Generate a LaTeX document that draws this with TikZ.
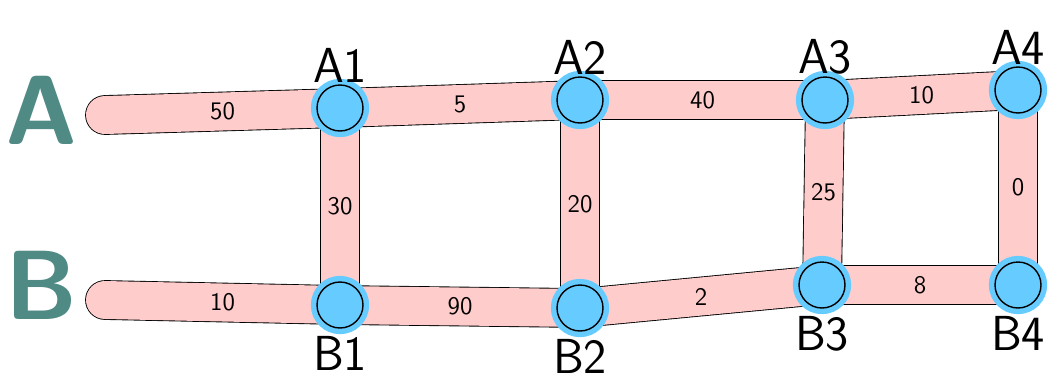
\documentclass[tikz,border=0pt]{standalone}
\usetikzlibrary{positioning}
\definecolor{bandpink}{HTML}{FFCCCC}
\definecolor{nodeblue}{HTML}{66CCFF}
\definecolor{railteal}{HTML}{4F8A85}
\tikzset{
    band/.style={draw=black, line width=0.5pt, double=bandpink, double distance=0.76cm, line cap=round},
    stop/.style={circle, draw=black, line width=0.8pt, fill=nodeblue, minimum size=0.92cm, inner sep=0pt,
        preaction={draw=nodeblue, line width=7pt}},
    stoplabel/.style={font=\sffamily\fontsize{28}{28}\selectfont, inner sep=1pt},
    weight/.style={font=\sffamily\Large, inner sep=1pt},
    rail/.style={font=\sffamily\bfseries\fontsize{56}{56}\selectfont, text=railteal, draw=none}
}
\begin{document}
\begin{tikzpicture}[x=0.02cm, y=-0.02cm]
    \useasboundingbox (0, 0) rectangle (1055, 383);
    % Line names
    \node [rail] (railA) at (42, 110) {A};
    \node [rail] (railB) at (42, 285) {B};
    % Start points
    \coordinate (A0) at (105, 115);
    \coordinate (B0) at (105, 300);
    % Stops
    \coordinate (pA1) at (340, 108);
    \coordinate (pA2) at (580, 100);
    \coordinate (pA3) at (825, 100);
    \coordinate (pA4) at (1018, 90);
    \coordinate (pB1) at (340, 305);
    \coordinate (pB2) at (580, 308);
    \coordinate (pB3) at (822, 285);
    \coordinate (pB4) at (1018, 285);
    % Bands
    \draw [band] (A0) -- (pA1) node [midway, weight] (wA0) {50};
    \draw [band] (pA1) -- (pA2) node [midway, weight] (wA1) {5};
    \draw [band] (pA2) -- (pA3) node [midway, weight] (wA2) {40};
    \draw [band] (pA3) -- (pA4) node [midway, weight] (wA3) {10};
    \draw [band] (B0) -- (pB1) node [midway, weight] (wB0) {10};
    \draw [band] (pB1) -- (pB2) node [midway, weight] (wB1) {90};
    \draw [band] (pB2) -- (pB3) node [midway, weight] (wB2) {2};
    \draw [band] (pB3) -- (pB4) node [midway, weight] (wB3) {8};
    \draw [band] (pA1) -- (pB1) node [midway, weight] (w1) {30};
    \draw [band] (pA2) -- (pB2) node [midway, weight] (w2) {20};
    \draw [band] (pA3) -- (pB3) node [midway, weight] (w3) {25};
    \draw [band] (pA4) -- (pB4) node [midway, weight] (w4) {0};
    % Nodes on top
    \foreach \n in {1,...,4} {
        \node [stop, label={[stoplabel]above:A\n}] (A\n) at (pA\n) {};
        \node [stop, label={[stoplabel, yshift=-3pt]below:B\n}] (B\n) at (pB\n) {};
    }
\end{tikzpicture}
\end{document}
